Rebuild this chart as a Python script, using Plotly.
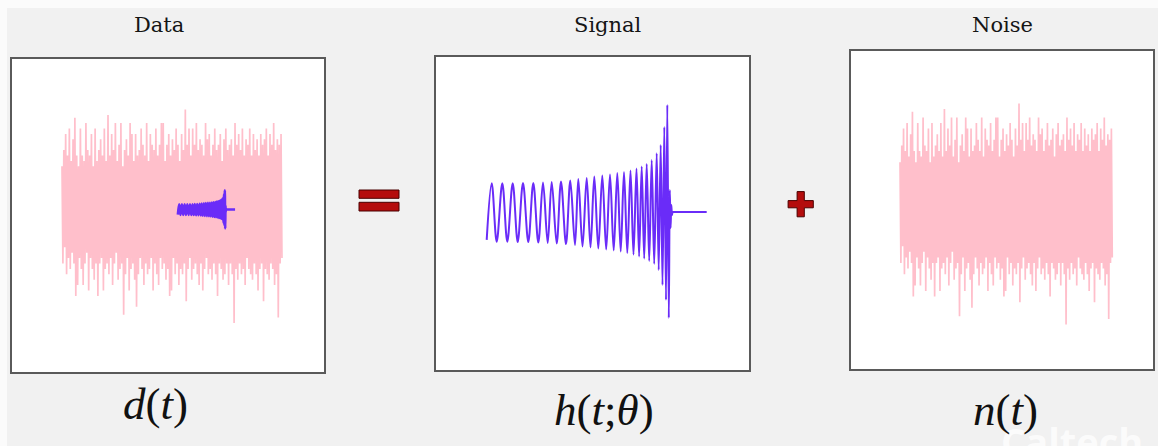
import plotly.graph_objects as go

W, H = 1158, 446

# Chirp waveform, sampled at its turning points (time in s, merger at t = 0; strain in arbitrary units)
signal_t = [-1.813, -1.763, -1.713, -1.657, -1.607, -1.553, -1.503, -1.450, -1.397, -1.347,
            -1.297, -1.250, -1.203, -1.163, -1.113, -1.070, -1.020, -0.977, -0.930, -0.897,
            -0.855, -0.813, -0.775, -0.737, -0.697, -0.657, -0.618, -0.580, -0.543, -0.507,
            -0.473, -0.440, -0.407, -0.375, -0.345, -0.315, -0.289, -0.263, -0.238, -0.213,
            -0.188, -0.163, -0.138, -0.113, -0.093, -0.073, -0.055, -0.037, -0.020, -0.007,
            0.008, 0.018, 0.026, 0.033, 0.040, 0.046, 0.052, 0.070, 0.200, 0.387]
signal_h = [-0.93, 0.96, -0.99, 0.96, -0.99, 0.96, -1.00, 0.97, -1.00, 0.97,
            -1.02, 0.98, -1.03, 1.00, -1.05, 1.02, -1.07, 1.05, -1.10, 1.10,
            -1.15, 1.13, -1.18, 1.18, -1.22, 1.22, -1.25, 1.25, -1.28, 1.30,
            -1.32, 1.33, -1.37, 1.38, -1.42, 1.45, -1.48, 1.52, -1.55, 1.60,
            -1.63, 1.73, -1.73, 1.96, -1.93, 2.23, -2.43, 2.83, -2.93, 3.57,
            -3.53, 0.73, -0.53, 0.23, -0.10, 0.0, 0.0, 0.0, 0.0, 0.0]

# Detector noise, regularly sampled (same units as the strain)
noise_start = -6.27
noise_step = 0.0354
noise_n = [8, -10, 11, -7, 14, -12, 10, -9, 15, -11,
           9, -8, 13, -10, 17, -16, 10, -14, 8, -9,
           15, -11, 10, -14, 9, -10, 16, -8, 11, -15,
           10, -9, 14, -11, 8, -13, 15, -10, 9, -16,
           11, -10, 13, -9, 10, -15, 15, -11, 9, -10,
           17.5, -12, 10, -9, 14, -14, 11, -10, 16, -8,
           9, -13, 12, -11, 16, -10, 8, -19.5, 11, -12,
           13, -9, 10, -15, 16, -11, 14, -10, 9, -13,
           14, -18, 10, -12, 11, -9, 15, -11, 12, -14,
           10, -10, 16, -12, 9, -11, 14, -9, 12, -15,
           11, -10, 15, -12, 10, -14, 12, -9, 16, -11,
           16, -10, 9, -13, 12, -11, 14, -16, 10, -15,
           13, -9, 11, -12, 15, -10, 12, -14, 9, -11,
           14, -12, 11, -10, 18.5, -17, 12, -11, 15, -9,
           10, -13, 15, -11, 12, -10, 16, -12, 11, -14,
           13, -10, 12, -15, 10, -11, 16, -9, 13, -12,
           14, -11, 10, -13, 12, -10, 15, -12, 11, -16,
           12, -10, 14, -11, 9, -13, 13, -12, 15, -10,
           11, -14, 12, -10, 13, -12, 10, -21, 16, -11,
           12, -13, 14, -10, 11, -12, 15, -11, 10, -14,
           13, -9, 12, -11, 15, -12, 10, -13, 14, -10,
           11, -12, 13, -15, 10, -11, 14, -10, 12, -17,
           13, -11, 15, -12, 10, -13, 14, -10, 12, -11,
           16, -14, 11, -12, 13, -20, 12, -10, 14, -9]
noise_t = [noise_start + i * noise_step for i in range(len(noise_n))]

panel_titles = ["Data", "Signal", "Noise"]
panel_labels = ["<i>d</i>(<i>t</i>)", "<i>h</i>(<i>t</i>;<i>θ</i>)", "<i>n</i>(<i>t</i>)"]

PINK = "#ffbfcb"
VIOLET = "#6a2cf8"
RED = "#b40d0d"
DARKRED = "#4a0000"


def fx(px):
    return px / W


def fy(py):
    return 1 - py / H


# panel boxes in pixels: (left, top, right, bottom)
boxes = [(11.5, 59, 324.3, 372.3), (436, 56.7, 749.3, 370), (851, 51, 1153.3, 369.3)]
x_ranges = [[-8.212, 3.819], [-2.32, 0.813], [-8.223, 3.826]]
y_ranges = [[-30.15, 27.87], [-5.267, 5.177], [-28.98, 27.86]]

fig = go.Figure()

# d(t): noisy data with the injected chirp on top
fig.add_trace(go.Scatter(x=noise_t, y=noise_n, mode="lines", line=dict(color=PINK, width=1.7),
                         xaxis="x", yaxis="y", hoverinfo="skip"))
fig.add_trace(go.Scatter(x=signal_t, y=signal_h, mode="lines",
                         line=dict(color=VIOLET, width=2.6, shape="spline", smoothing=1),
                         xaxis="x", yaxis="y", hoverinfo="skip"))
# h(t; theta): the chirp alone
fig.add_trace(go.Scatter(x=signal_t, y=signal_h, mode="lines",
                         line=dict(color=VIOLET, width=2, shape="spline", smoothing=1),
                         xaxis="x2", yaxis="y2", hoverinfo="skip"))
# n(t): the noise alone
fig.add_trace(go.Scatter(x=noise_t, y=noise_n, mode="lines", line=dict(color=PINK, width=1.7),
                         xaxis="x3", yaxis="y3", hoverinfo="skip"))

layout = dict(
    width=W, height=H, autosize=False,
    margin=dict(l=0, r=0, t=0, b=0, pad=0),
    paper_bgcolor="#f1f1f1", plot_bgcolor="white",
    showlegend=False,
)
for i, ((l, t, r, b), xr, yr) in enumerate(zip(boxes, x_ranges, y_ranges)):
    sfx = "" if i == 0 else str(i + 1)
    ax_style = dict(showticklabels=False, showgrid=False, zeroline=False, ticks="",
                    showline=True, mirror=True, linecolor="#5a5a5a", linewidth=1.5, fixedrange=True)
    layout["xaxis" + sfx] = dict(domain=[fx(l), fx(r)], range=xr, anchor="y" + sfx, **ax_style)
    layout["yaxis" + sfx] = dict(domain=[fy(b), fy(t)], range=yr, anchor="x" + sfx, **ax_style)
fig.update_layout(**layout)

# light strips along the top and left edges
shapes = [
    dict(type="rect", xref="paper", yref="paper", x0=0, x1=1, y0=fy(8), y1=1,
         fillcolor="#fbfbfb", line=dict(width=0), layer="below"),
    dict(type="rect", xref="paper", yref="paper", x0=0, x1=fx(7), y0=0, y1=1,
         fillcolor="#fbfbfb", line=dict(width=0), layer="below"),
]
# "=" sign
for top, bot in [(190, 198.3), (202.3, 211)]:
    shapes.append(dict(type="rect", xref="paper", yref="paper", x0=fx(359), x1=fx(399),
                       y0=fy(bot), y1=fy(top), fillcolor=RED, line=dict(color=DARKRED, width=1)))
# "+" sign
cx, cy, a, s = 800.7, 204.2, 3.6, 12.6
pts = [(cx - a, cy - s), (cx + a, cy - s), (cx + a, cy - a), (cx + s, cy - a), (cx + s, cy + a),
       (cx + a, cy + a), (cx + a, cy + s), (cx - a, cy + s), (cx - a, cy + a), (cx - s, cy + a),
       (cx - s, cy - a), (cx - a, cy - a)]
path = "M " + " L ".join(f"{fx(x):.5f},{fy(y):.5f}" for x, y in pts) + " Z"
shapes.append(dict(type="path", xref="paper", yref="paper", path=path,
                   fillcolor=RED, line=dict(color=DARKRED, width=1)))
fig.update_layout(shapes=shapes)

annotations = []
# faint watermark in the lower right corner, behind the label
annotations.append(dict(text="<b>Caltech</b>", x=fx(1072), y=fy(441), xref="paper", yref="paper",
                        showarrow=False, xanchor="center", yanchor="middle",
                        font=dict(family="Open Sans", size=38, color="rgba(255,255,255,0.75)")))
for title, cxp in zip(panel_titles, [159, 608, 1002]):
    annotations.append(dict(text=title, x=fx(cxp), y=fy(25), xref="paper", yref="paper",
                            showarrow=False, xanchor="center", yanchor="middle",
                            font=dict(family="DejaVu Serif", size=21, color="#151515")))
for lab, cxp, cyp in zip(panel_labels, [155, 604, 1005], [404, 410, 410]):
    annotations.append(dict(text=lab, x=fx(cxp), y=fy(cyp), xref="paper", yref="paper",
                            showarrow=False, xanchor="center", yanchor="middle",
                            font=dict(family="Liberation Serif", size=45, color="#111")))
fig.update_layout(annotations=annotations)

fig.write_html("out.html", config=dict(displayModeBar=False))
